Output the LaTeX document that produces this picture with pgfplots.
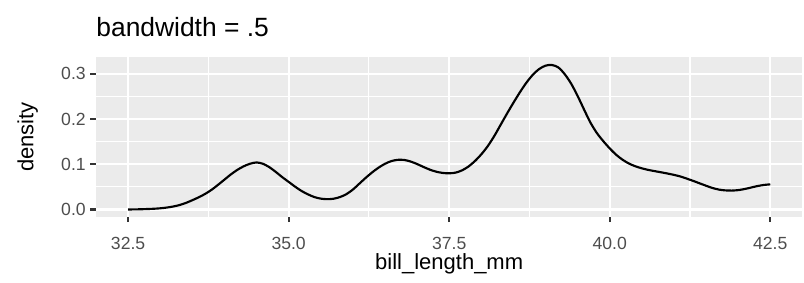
\documentclass[border=0pt]{standalone}
\usepackage{fontspec}
\setmainfont{Liberation Sans}
\usepackage{pgfplots}
\pgfplotsset{compat=1.18}
\definecolor{panelbg}{HTML}{EBEBEB}
\definecolor{grey30}{HTML}{4D4D4D}
\definecolor{grey20}{HTML}{333333}
\begin{document}
\begin{tikzpicture}
\begin{axis}[
  scale only axis,
  width=353.2pt, height=79.7pt,
  xmin=32, xmax=43, ymin=-0.016, ymax=0.3365,
  axis background/.style={fill=panelbg},
  axis line style={draw=none},
  xtick={32.5,35,37.5,40,42.5},
  ytick={0,0.1,0.2,0.3},
  minor x tick num=1, minor y tick num=1,
  grid=both,
  major grid style={white, line width=1.07pt},
  minor grid style={white, line width=0.53pt},
  tick align=outside,
  xtick pos=bottom, ytick pos=left,
  major tick length=2.75pt, minor tick length=0pt,
  major tick style={grey20, line width=1.07pt},
  minor tick style={draw=none},
  /pgf/number format/assume math mode=true,
  /pgf/number format/.cd, fixed, fixed zerofill, precision=1, /pgfplots/.cd,
  ticklabel style={font=\fontsize{8.8}{10}\selectfont, text=grey30, inner sep=0pt},
  xticklabel style={anchor=base, yshift=-13.6pt},
  yticklabel style={anchor=east, xshift=-2.2pt},
  xlabel={bill\_length\_mm},
  ylabel={density},
  label style={font=\fontsize{11}{13}\selectfont, inner sep=0pt},
  xlabel style={at={(axis description cs:0.5,0)}, anchor=base, yshift=-26.2pt},
  ylabel style={at={(axis description cs:-0.08876,0.5)}, anchor=base},
  clip=false,
]
\addplot[black, line width=1.07pt, smooth, tension=0.5] coordinates {
(32.5,0.0000) (32.6,0.0002) (32.7,0.0005) (32.8,0.0010) (32.9,0.0016)
(33.0,0.0026) (33.1,0.0042) (33.2,0.0065) (33.3,0.0098) (33.4,0.0145)
(33.5,0.0205) (33.6,0.0270) (33.7,0.0345) (33.8,0.0435) (33.9,0.0545)
(34.0,0.0660) (34.1,0.0775) (34.2,0.0875) (34.3,0.0955) (34.4,0.1012)
(34.5,0.1040) (34.6,0.1010) (34.7,0.0935) (34.8,0.0830) (34.9,0.0715)
(35.0,0.0610) (35.1,0.0505) (35.2,0.0410) (35.3,0.0335) (35.4,0.0275)
(35.5,0.0240) (35.6,0.0228) (35.7,0.0238) (35.8,0.0275) (35.9,0.0340)
(36.0,0.0440) (36.1,0.0570) (36.2,0.0700) (36.3,0.0820) (36.4,0.0925)
(36.5,0.1010) (36.6,0.1070) (36.7,0.1098) (36.8,0.1095) (36.9,0.1060)
(37.0,0.1005) (37.1,0.0940) (37.2,0.0880) (37.3,0.0835) (37.4,0.0808)
(37.5,0.0800) (37.6,0.0815) (37.7,0.0865) (37.8,0.0950) (37.9,0.1070)
(38.0,0.1220) (38.1,0.1400) (38.2,0.1620) (38.3,0.1870) (38.4,0.2120)
(38.5,0.2360) (38.6,0.2590) (38.7,0.2800) (38.8,0.2975) (38.9,0.3105)
(39.0,0.3180) (39.1,0.3195) (39.2,0.3140) (39.3,0.2990) (39.4,0.2780)
(39.5,0.2510) (39.6,0.2210) (39.7,0.1920) (39.8,0.1690) (39.9,0.1510)
(40.0,0.1350) (40.1,0.1210) (40.2,0.1100) (40.3,0.1015) (40.4,0.0955)
(40.5,0.0910) (40.6,0.0875) (40.7,0.0848) (40.8,0.0822) (40.9,0.0795)
(41.0,0.0765) (41.1,0.0730) (41.2,0.0682) (41.3,0.0632) (41.4,0.0578)
(41.5,0.0525) (41.6,0.0475) (41.7,0.0440) (41.8,0.0422) (41.9,0.0418)
(42.0,0.0428) (42.1,0.0452) (42.2,0.0485) (42.3,0.0518) (42.4,0.0542)
(42.5,0.0556)
};
\node[anchor=base west, inner sep=0pt, font=\fontsize{13.2}{15}\selectfont] at (rel axis cs:0,1) [yshift=10.35pt] {bandwidth = .5};
\end{axis}
\pgfresetboundingbox
\path[use as bounding box] ([xshift=-48pt,yshift=-32.65pt]current axis.south west) rectangle ([xshift=0.8pt,yshift=28.65pt]current axis.north east);
\end{tikzpicture}
\end{document}
